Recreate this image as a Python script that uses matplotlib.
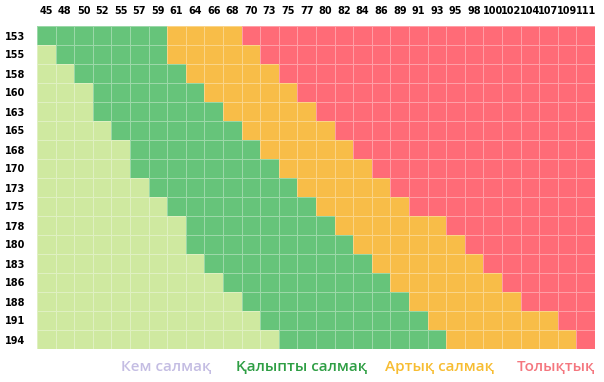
import numpy as np
import matplotlib.pyplot as plt
from matplotlib.colors import ListedColormap

# weights (columns) and heights (rows)
weights = [45, 48, 50, 52, 55, 57, 59, 61, 64, 66, 68, 70, 73, 75, 77,
           80, 82, 84, 86, 89, 91, 93, 95, 98, 100, 102, 104, 107, 109, 111]
heights = [153, 155, 158, 160, 163, 165, 168, 170, 173, 175, 178, 180,
           183, 186, 188, 191, 194]

# per row: number of columns in each zone (cumulative end index)
under_end = [0, 1, 2, 3, 3, 4, 5, 5, 6, 7, 8, 8, 9, 10, 11, 12, 13]
normal_end = [7, 7, 8, 9, 10, 11, 12, 13, 14, 15, 16, 17, 18, 19, 20, 21, 22]
over_end = [11, 12, 13, 14, 15, 16, 17, 18, 19, 20, 22, 23, 24, 25, 26, 28, 29]

labels = ['Кем салмақ', 'Қалыпты салмақ', 'Артық салмақ', 'Толықтық']
cell_colors = ['#cfe9a0', '#66c47a', '#f8bd48', '#ff6b77']
text_colors = ['#c4bde3', '#2e9e44', '#f7bd32', '#f4777f']

grid = np.zeros((len(heights), len(weights)), dtype=int)
for i in range(len(heights)):
    for j in range(len(weights)):
        if j < under_end[i]:
            grid[i, j] = 0
        elif j < normal_end[i]:
            grid[i, j] = 1
        elif j < over_end[i]:
            grid[i, j] = 2
        else:
            grid[i, j] = 3

fig = plt.figure(figsize=(6.04, 3.82), dpi=100)
ax = fig.add_axes([37 / 604, 1 - 349 / 382, 558 / 604, 323 / 382])
ax.pcolormesh(grid, cmap=ListedColormap(cell_colors), vmin=-0.5, vmax=3.5,
              edgecolors=(1, 1, 1, 0.35), linewidth=0.5)
ax.set_xlim(0, len(weights))
ax.set_ylim(len(heights), 0)

ax.xaxis.tick_top()
ax.set_xticks(np.arange(len(weights)) + 0.5)
ax.set_xticklabels(weights)
ax.set_yticks(np.arange(len(heights)) + 0.5)
ax.set_yticklabels(heights)
ax.tick_params(length=0, labelsize=7)
ax.tick_params(axis='x', pad=7)
ax.tick_params(axis='y', pad=8.5)
for t in ax.get_xticklabels() + ax.get_yticklabels():
    t.set_fontweight('bold')
for s in ax.spines.values():
    s.set_visible(False)

# legend text below the grid
xs = [166, 302, 439, 556]
for x, lab, c in zip(xs, labels, text_colors):
    fig.text(x / 604, 1 - 367 / 382, lab, color=c, ha='center', va='center',
             fontsize=11, fontweight='semibold', family='Open Sans')

fig.savefig('out.png', dpi=100)
